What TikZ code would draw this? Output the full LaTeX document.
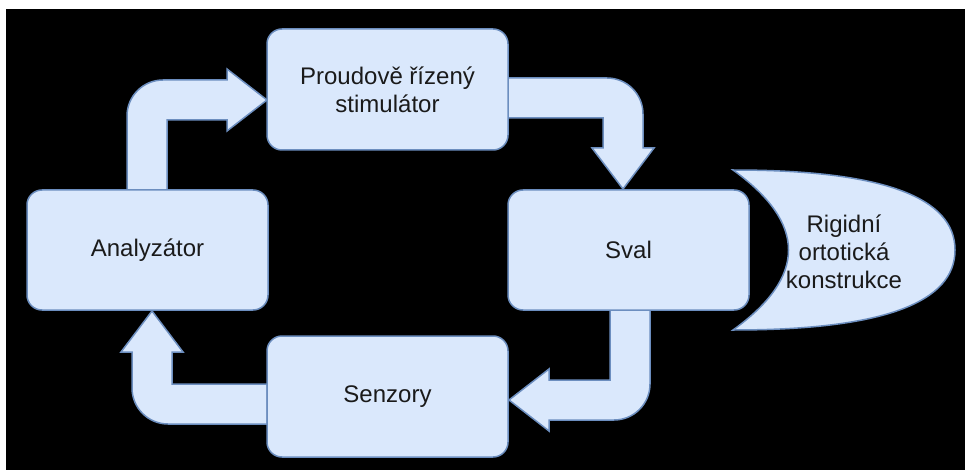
\documentclass[tikz,border=0pt]{standalone}
\usepackage{fontspec}
\setmainfont{Liberation Sans}
\definecolor{boxfill}{HTML}{DAE8FC}
\definecolor{boxline}{HTML}{6C8EBF}
\definecolor{ink}{HTML}{1A1A1A}
\begin{document}
\begin{tikzpicture}[x=1pt,y=-1pt,
  block/.style={draw=boxline, fill=boxfill, line width=1.5pt, rounded corners=15pt,
    minimum width=241pt, minimum height=120pt, inner sep=0pt, align=center,
    text=ink, font=\fontsize{24}{28}\selectfont},
  flow/.style={draw=boxline, fill=boxfill, line width=1.5pt, line join=miter},
  label/.style={text=ink, align=center, font=\fontsize{24}{28}\selectfont}]
  % page frame and dark canvas
  \useasboundingbox (0,0) rectangle (965,470);
  \fill[white] (0,0) rectangle (965,470);
  \fill[black] (6,9) rectangle (965,470);

  % block arrows of the loop
  \def\r{36}
  % Analyzator -> stimulator
  \path[flow] (127,190) -- (127,80+\r) arc[start angle=180, end angle=90, radius=\r pt]
    -- (227,80) -- (227,69) -- (267,100) -- (227,131) -- (227,120) -- (167,120) -- (167,190) -- cycle;
  % stimulator -> Sval
  \path[flow] (508,78) -- (643-\r,78) arc[start angle=90, end angle=0, radius=\r pt]
    -- (643,148) -- (654,148) -- (623,189) -- (592,148) -- (603,148) -- (603,118) -- (508,118) -- cycle;
  % Sval -> Senzory
  \path[flow] (610,310) -- (650,310) -- (650,420-\r) arc[start angle=0, end angle=-90, radius=\r pt]
    -- (549,420) -- (549,431) -- (509,400) -- (549,369) -- (549,380) -- (610,380) -- cycle;
  % Senzory -> Analyzator
  \path[flow] (267,384) -- (172,384) -- (172,352) -- (183,352) -- (152,311) -- (121,352) -- (132,352)
    -- (132,424-\r) arc[start angle=180, end angle=270, radius=\r pt] -- (267,424) -- cycle;

  % blocks
  \node[block, minimum height=121pt] (stim) at (387.5,89.5) {Proudově řízený\\stimulátor};
  \node[block] (anal) at (147.5,250) {Analyzátor};
  \node[block] (sval) at (628.5,250) {Sval};
  \node[block, minimum height=121pt] (senz) at (387.5,396.5) {Senzory};

  % orthosis (xor-like outline: concave left, convex right)
  \path[flow] (733,170) .. controls (881,170) and (955,196.67) .. (955,250)
    .. controls (955,303.33) and (881,330) .. (733,330)
    .. controls (807,276.67) and (807,223.33) .. (733,170) -- cycle;
  \node[label] (orth) at (844,252) {Rigidní\\ortotická\\konstrukce};
\end{tikzpicture}
\end{document}
